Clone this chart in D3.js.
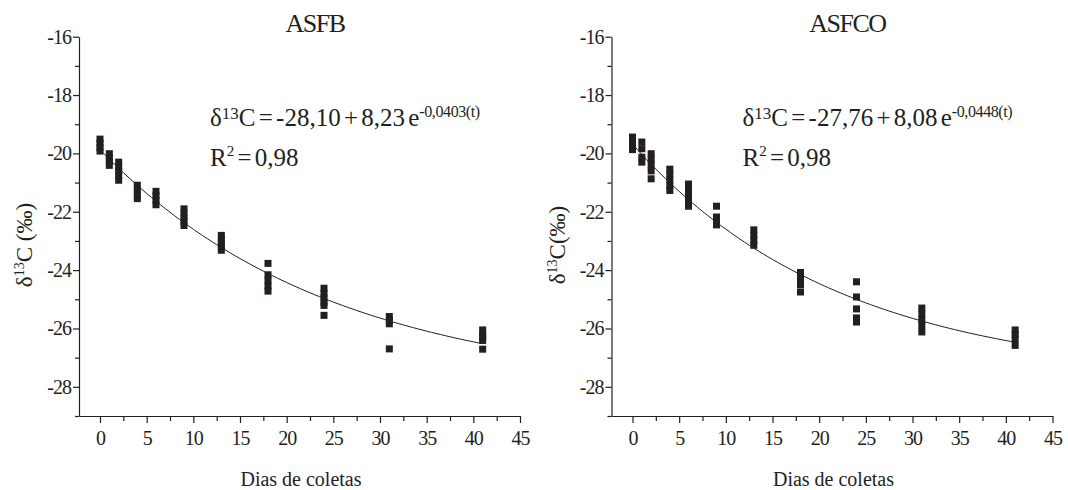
<!DOCTYPE html>
<html>
<head>
<meta charset="utf-8">
<script src="https://cdn.jsdelivr.net/npm/d3@7"></script>
<style>
  body { margin: 0; background: #fff; }
  svg text { font-family: "Liberation Serif", "DejaVu Serif", "Times New Roman", Times, serif; fill: #231f20; }
</style>
</head>
<body>
<div id="chart"></div>
<script>
// sampling days (x) and the replicate values for each day
const days = [0, 1, 2, 4, 6, 9, 13, 18, 24, 31, 41];

const asfbValues = [
  [-19.51, -19.65, -19.8, -19.92],
  [-20.01, -20.15, -20.28, -20.41],
  [-20.30, -20.45, -20.6, -20.75, -20.92],
  [-21.09, -21.25, -21.4, -21.55],
  [-21.30, -21.45, -21.6, -21.76],
  [-21.90, -22.05, -22.2, -22.33, -22.47],
  [-22.81, -22.95, -23.1, -23.2, -23.32],
  [-23.77, -24.16, -24.35, -24.55, -24.72],
  [-24.62, -24.8, -24.95, -25.1, -25.21, -25.55],
  [-25.59, -25.72, -25.84, -26.70],
  [-26.05, -26.2, -26.3, -26.41, -26.71]
];

const asfcoValues = [
  [-19.44, -19.6, -19.75, -19.87],
  [-19.61, -19.84, -20.13, -20.30],
  [-20.01, -20.2, -20.4, -20.6, -20.87],
  [-20.54, -20.72, -20.9, -21.1, -21.27],
  [-21.05, -21.25, -21.45, -21.65, -21.81],
  [-21.81, -22.18, -22.32, -22.45],
  [-22.62, -22.8, -22.98, -23.15],
  [-24.08, -24.3, -24.5, -24.75],
  [-24.40, -24.92, -25.33, -25.64, -25.78],
  [-25.30, -25.5, -25.7, -25.9, -26.12],
  [-26.05, -26.2, -26.35, -26.58]
];

const panelTitles = ['ASFB', 'ASFCO'];
const yLabelGap = [' ', ''];
const fitIntercept = [-28.10, -27.76];
const fitAmplitude = [8.23, 8.08];
const fitRate = [0.0403, 0.0448];
const rSquared = [0.98, 0.98];

const xTickValues = [0, 5, 10, 15, 20, 25, 30, 35, 40, 45];
const xMinorTicks = [2.5, 7.5, 12.5, 17.5, 22.5, 27.5, 32.5, 37.5, 42.5];
const yTickValues = [-16, -18, -20, -22, -24, -26, -28];
const yMinorTicks = [-17, -19, -21, -23, -25, -27, -29];

const ink = '#231f20';
const serif = '"Liberation Serif", "DejaVu Serif", "Times New Roman", Times, serif';
const width = 1068, height = 490;
const panelX = [79, 611.5];
const plotW = 441;
const plotTop = 36.7, plotBottom = 416;

const loc = d3.formatLocale({decimal: ',', thousands: '.', grouping: [3], currency: ['', ''], minus: '-'});
const fmt2 = loc.format('.2f');
const fmt4 = loc.format('.4f');
const fmtInt = loc.format('d');

const svg = d3.select('#chart')
  .append('svg')
    .attr('width', width)
    .attr('height', height)
    .attr('font-family', serif);

function drawPanel(i, values) {
  const x0 = panelX[i];

  const x = d3.scaleLinear()
      .domain([-2.25, 45])
      .range([x0, x0 + plotW]);

  const y = d3.scaleLinear()
      .domain([-29, -16])
      .range([plotBottom, plotTop]);

  const g = svg.append('g');

  // minor ticks
  g.append('g')
      .attr('transform', `translate(0,${plotBottom})`)
      .call(d3.axisBottom(x).tickValues(xMinorTicks).tickSize(5).tickFormat(''))
      .call(a => a.select('.domain').remove());
  g.append('g')
      .attr('transform', `translate(${x0},0)`)
      .call(d3.axisLeft(y).tickValues(yMinorTicks).tickSize(4).tickFormat(''))
      .call(a => a.select('.domain').remove());

  // main axes
  const xAxis = g.append('g')
      .attr('transform', `translate(0,${plotBottom})`)
      .call(d3.axisBottom(x).tickValues(xTickValues).tickSize(7).tickSizeOuter(0)
        .tickPadding(8).tickFormat(fmtInt));
  const yAxis = g.append('g')
      .attr('transform', `translate(${x0},0)`)
      .call(d3.axisLeft(y).tickValues(yTickValues).tickSize(6).tickSizeOuter(0)
        .tickPadding(2).tickFormat(fmtInt));

  g.selectAll('.tick line, .domain')
      .attr('stroke', ink)
      .attr('stroke-width', 1.2);
  [xAxis, yAxis].forEach(a => a
      .attr('font-family', serif)
      .attr('font-size', 20)
    .selectAll('text')
      .attr('letter-spacing', -1)
      .attr('fill', ink));

  // fitted curve
  const curve = d3.range(0, 41.01, 0.5).map(t => [t,
    fitIntercept[i] + fitAmplitude[i] * Math.exp(-fitRate[i] * t)]);
  g.append('path')
      .datum(curve)
      .attr('fill', 'none')
      .attr('stroke', ink)
      .attr('stroke-width', 1)
      .attr('d', d3.line().x(d => x(d[0])).y(d => y(d[1])));

  // points
  const pts = days.flatMap((d, j) => values[j].map(v => ({day: d, v: v})));
  const s = 7;
  g.selectAll('.pt')
    .data(pts)
    .join('rect')
      .attr('class', 'pt')
      .attr('x', d => x(d.day) - s / 2)
      .attr('y', d => y(d.v) - s / 2)
      .attr('width', s)
      .attr('height', s)
      .attr('fill', ink);

  // title
  g.append('text')
      .attr('x', x0 + 236)
      .attr('y', 32)
      .attr('text-anchor', 'middle')
      .attr('font-size', 26)
      .attr('letter-spacing', -1.5)
      .text(panelTitles[i]);

  // equation
  const eq = g.append('text')
      .attr('x', x0 + 131)
      .attr('y', 126)
      .attr('font-size', 25)
      .attr('word-spacing', -3);
  eq.append('tspan').text('δ');
  eq.append('tspan').attr('font-size', 17).attr('dy', -7).text('13');
  eq.append('tspan').attr('dy', 7)
      .text(`C = ${fmt2(fitIntercept[i])} + ${fmt2(fitAmplitude[i])} e`);
  eq.append('tspan').attr('font-size', 16).attr('dy', -9).attr('letter-spacing', -0.4)
      .text(`${fmt4(-fitRate[i])}(t)`);

  const r2 = g.append('text')
      .attr('x', x0 + 131)
      .attr('y', 166)
      .attr('font-size', 25)
      .attr('word-spacing', -3);
  r2.append('tspan').text('R');
  r2.append('tspan').attr('font-size', 15).attr('dy', -10).text('2');
  r2.append('tspan').attr('dy', 10).text(` = ${fmt2(rSquared[i])}`);

  // axis titles
  g.append('text')
      .attr('x', x0 + 222)
      .attr('y', 486)
      .attr('text-anchor', 'middle')
      .attr('font-size', 20)
      .text('Dias de coletas');

  const yl = g.append('text')
      .attr('transform', `translate(${x0 - 47},${245}) rotate(-90)`)
      .attr('text-anchor', 'middle')
      .attr('font-size', 23);
  yl.append('tspan').text('δ');
  yl.append('tspan').attr('font-size', 14).attr('dy', -8).text('13');
  yl.append('tspan').attr('dy', 8).text('C' + yLabelGap[i] + '(‰)');
}

drawPanel(0, asfbValues);
drawPanel(1, asfcoValues);
</script>
</body>
</html>
